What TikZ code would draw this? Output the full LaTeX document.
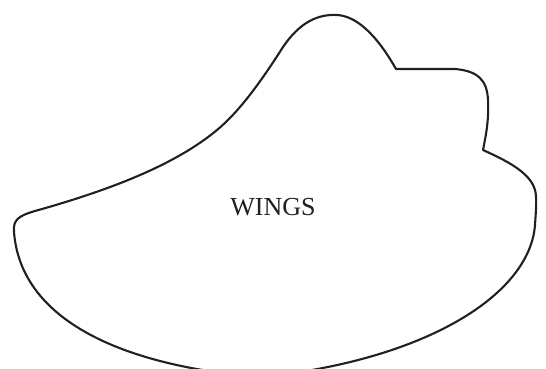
\documentclass[tikz,border=0pt]{standalone}
\usepackage{fontspec}
\setmainfont{Liberation Serif}
\definecolor{ink}{HTML}{231F20}
\tikzset{outline/.style={draw=ink, line width=2.1pt, line join=round},
         label/.style={font=\fontsize{26}{31}\selectfont, text=ink, inner sep=0pt}}
\begin{document}
\begin{tikzpicture}[x=1pt,y=-1pt]
\useasboundingbox (0,0) rectangle (546,369);
\begin{scope}
\clip (0,0) rectangle (546,369);
\draw[outline] (14,232)
  .. controls (13,220) and (18,216) .. (35,211)
  .. controls (110,190) and (175,165) .. (217,130)
  .. controls (240,111) and (262,80) .. (283,47)
  .. controls (300,22) and (318,14) .. (337,15)
  .. controls (355,16) and (375,32) .. (396,69)
  -- (455,69)
  .. controls (478,71) and (487,80) .. (488,100)
  .. controls (489,120) and (486,135) .. (483,150)
  .. controls (505,160) and (530,172) .. (535,190)
  .. controls (537,197) and (536,210) .. (535,225)
  .. controls (530,290) and (440,350) .. (300,372)
  .. controls (270,377) and (240,375) .. (215,372)
  .. controls (100,355) and (20,310) .. (14,232)
  -- cycle;
\end{scope}
\node[label] (wings) at (273,207) {WINGS};
\end{tikzpicture}
\end{document}
